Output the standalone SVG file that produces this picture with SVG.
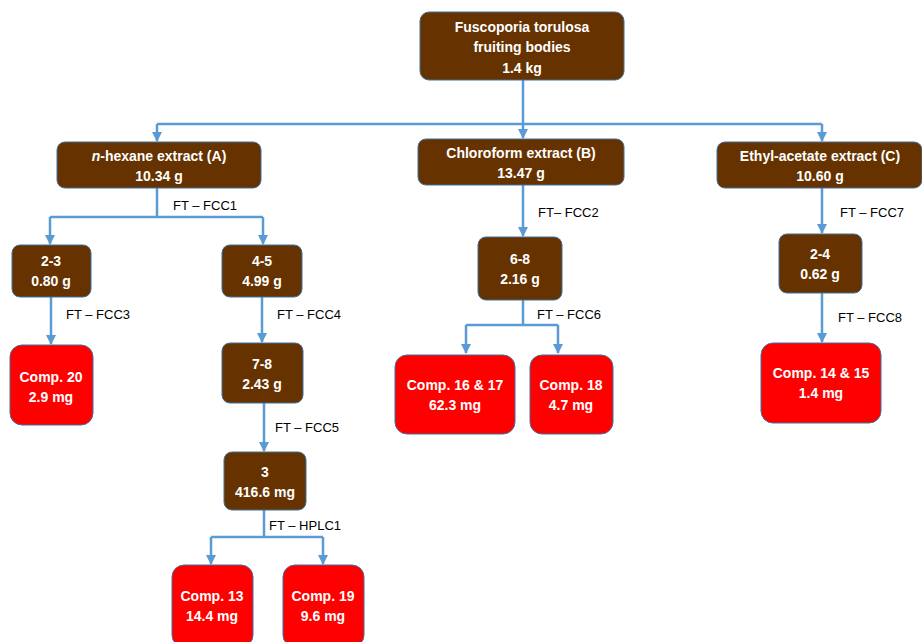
<svg xmlns="http://www.w3.org/2000/svg" width="922" height="642" viewBox="0 0 922 642">
<defs>
<marker id="ah" viewBox="0 0 10 10" refX="9" refY="5" markerWidth="4" markerHeight="4" orient="auto" markerUnits="strokeWidth">
<path d="M0,0 L10,5 L0,10 z" fill="#5B9BD5"/>
</marker>
<style>
.b{fill:#663300;stroke:#41719C;stroke-width:1}
.r{fill:#FF0000;stroke:#41719C;stroke-width:1}
.t{font-family:"Liberation Sans",Arial,sans-serif;font-weight:bold;font-size:14px;fill:#FFFFFF;text-anchor:middle}
.l{font-family:"Liberation Sans",Arial,sans-serif;font-size:13px;fill:#000000}
.c{fill:none;stroke:#5B9BD5;stroke-width:2.5}
.a{marker-end:url(#ah)}
</style>
</defs>
<rect width="922" height="642" fill="#FFFFFF"/>
<g id="connectors">
<path class="c" d="M523,80 V124"/>
<path class="c" d="M157,124 H822"/>
<path class="c a" d="M157,124 V141"/>
<path class="c a" d="M523,124 V138"/>
<path class="c a" d="M822,124 V141"/>
<path class="c" d="M157,188 V217 M50,217 H263"/>
<path class="c a" d="M50,217 V244"/>
<path class="c a" d="M263,217 V244"/>
<path class="c a" d="M51,297 V344"/>
<path class="c a" d="M262,297 V342"/>
<path class="c a" d="M264,403 V451"/>
<path class="c" d="M264,510 V537 M211,537 H323"/>
<path class="c a" d="M211,537 V564"/>
<path class="c a" d="M323,537 V564"/>
<path class="c a" d="M523,185 V236"/>
<path class="c" d="M523,300 V325 M466,325 H558"/>
<path class="c a" d="M466,325 V353"/>
<path class="c a" d="M558,325 V353"/>
<path class="c a" d="M822,188 V233"/>
<path class="c a" d="M822,293 V342"/>
</g>
<g id="labels">
<text class="l" x="173" y="210">FT – FCC1</text>
<text class="l" x="66" y="319">FT – FCC3</text>
<text class="l" x="277" y="319">FT – FCC4</text>
<text class="l" x="275" y="432">FT – FCC5</text>
<text class="l" x="269" y="530">FT – HPLC1</text>
<text class="l" x="538" y="217">FT– FCC2</text>
<text class="l" x="537" y="319">FT – FCC6</text>
<text class="l" x="840" y="217">FT – FCC7</text>
<text class="l" x="838" y="322">FT – FCC8</text>
</g>
<g id="n-top">
<rect class="b" x="420" y="12" width="204" height="68" rx="9"/>
<text class="t" x="522" y="32">Fuscoporia torulosa</text>
<text class="t" x="522" y="52">fruiting bodies</text>
<text class="t" x="522" y="73">1.4 kg</text>
</g>
<g id="n-hexane">
<rect class="b" x="57" y="142" width="204" height="46" rx="8"/>
<text class="t" x="159" y="161"><tspan font-style="italic">n</tspan>-hexane extract (A)</text>
<text class="t" x="159" y="181">10.34 g</text>
</g>
<g id="n-chloroform">
<rect class="b" x="418" y="139" width="206" height="46" rx="8"/>
<text class="t" x="521" y="158">Chloroform extract (B)</text>
<text class="t" x="521" y="178">13.47 g</text>
</g>
<g id="n-ethyl">
<rect class="b" x="717" y="142" width="205" height="46" rx="8"/>
<text class="t" x="820" y="161">Ethyl-acetate extract (C)</text>
<text class="t" x="820" y="181">10.60 g</text>
</g>
<g id="n-2-3">
<rect class="b" x="12" y="245" width="79" height="52" rx="8"/>
<text class="t" x="51" y="266">2-3</text>
<text class="t" x="51" y="286">0.80 g</text>
</g>
<g id="n-4-5">
<rect class="b" x="222" y="245" width="80" height="52" rx="8"/>
<text class="t" x="262" y="266">4-5</text>
<text class="t" x="262" y="286">4.99 g</text>
</g>
<g id="n-comp20">
<rect class="r" x="10" y="345" width="83" height="80" rx="12"/>
<text class="t" x="51" y="382">Comp. 20</text>
<text class="t" x="51" y="402">2.9 mg</text>
</g>
<g id="n-7-8">
<rect class="b" x="222" y="343" width="81" height="60" rx="8"/>
<text class="t" x="262" y="369">7-8</text>
<text class="t" x="262" y="389">2.43 g</text>
</g>
<g id="n-3">
<rect class="b" x="224" y="452" width="82" height="58" rx="8"/>
<text class="t" x="265" y="477">3</text>
<text class="t" x="265" y="497">416.6 mg</text>
</g>
<g id="n-comp13">
<rect class="r" x="172" y="565" width="81" height="82" rx="12"/>
<text class="t" x="212" y="601">Comp. 13</text>
<text class="t" x="212" y="621">14.4 mg</text>
</g>
<g id="n-comp19">
<rect class="r" x="283" y="565" width="81" height="82" rx="12"/>
<text class="t" x="323" y="601">Comp. 19</text>
<text class="t" x="323" y="621">9.6 mg</text>
</g>
<g id="n-6-8">
<rect class="b" x="478" y="237" width="84" height="63" rx="8"/>
<text class="t" x="520" y="264">6-8</text>
<text class="t" x="520" y="284">2.16 g</text>
</g>
<g id="n-comp16-17">
<rect class="r" x="395" y="355" width="120" height="79" rx="12"/>
<text class="t" x="455" y="390">Comp. 16 &amp; 17</text>
<text class="t" x="455" y="410">62.3 mg</text>
</g>
<g id="n-comp18">
<rect class="r" x="530" y="355" width="83" height="79" rx="12"/>
<text class="t" x="571" y="390">Comp. 18</text>
<text class="t" x="571" y="410">4.7 mg</text>
</g>
<g id="n-2-4">
<rect class="b" x="779" y="234" width="83" height="59" rx="8"/>
<text class="t" x="820" y="259">2-4</text>
<text class="t" x="820" y="279">0.62 g</text>
</g>
<g id="n-comp14-15">
<rect class="r" x="761" y="343" width="120" height="80" rx="12"/>
<text class="t" x="821" y="378">Comp. 14 &amp; 15</text>
<text class="t" x="821" y="398">1.4 mg</text>
</g>
</svg>
